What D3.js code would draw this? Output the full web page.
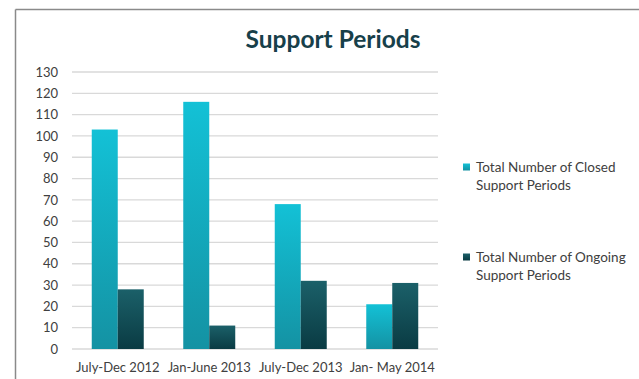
<!DOCTYPE html>
<html>
<head>
<meta charset="utf-8">
<script src="https://cdn.jsdelivr.net/npm/d3@7"></script>
<style>
  html, body { margin: 0; padding: 0; background: #fff; }
  svg { display: block; }
  text { font-family: Lato, "Open Sans", sans-serif; }
</style>
</head>
<body>
<script>
// Support periods per reporting window
const categories = ["July-Dec 2012", "Jan-June 2013", "July-Dec 2013", "Jan- May 2014"];
const closedPeriods = [103, 116, 68, 21];
const ongoingPeriods = [28, 11, 32, 31];
const seriesNames = ["Total Number of Closed Support Periods", "Total Number of Ongoing Support Periods"];
const yTicks = [0, 10, 20, 30, 40, 50, 60, 70, 80, 90, 100, 110, 120, 130];

const W = 639, H = 379;
const plot = { left: 72, right: 438, top: 72, bottom: 349 };

const svg = d3.select("body").append("svg").attr("width", W).attr("height", H);

// Vertical gradients for each series (top light, bottom dark per bar)
const defs = svg.append("defs");
const grads = [
  { id: "gClosed", top: "#13c1d6", bottom: "#1492a3" },
  { id: "gOngoing", top: "#1b6069", bottom: "#0a3b43" }
];
grads.forEach(g => {
  const lg = defs.append("linearGradient").attr("id", g.id)
    .attr("x1", 0).attr("y1", 0).attr("x2", 0).attr("y2", 1);
  lg.append("stop").attr("offset", "0%").attr("stop-color", g.top);
  lg.append("stop").attr("offset", "100%").attr("stop-color", g.bottom);
});

// Frame lines (top and left edge of the chart area)
svg.append("line").attr("x1", 15.5).attr("x2", W).attr("y1", 9.5).attr("y2", 9.5)
  .attr("stroke", "#8a8a8a").attr("stroke-width", 1.5);
svg.append("line").attr("x1", 15.5).attr("x2", 15.5).attr("y1", 9.5).attr("y2", H)
  .attr("stroke", "#8a8a8a").attr("stroke-width", 1.5);

const y = d3.scaleLinear().domain([0, 130]).range([plot.bottom, plot.top]);
const x0 = d3.scaleBand().domain(categories).range([plot.left, plot.right]).paddingInner(0).paddingOuter(0);
const x1 = d3.scaleBand().domain([0, 1]).range([0, x0.bandwidth()]).paddingInner(0).paddingOuter(0.76);

// Gridlines
svg.append("g")
  .selectAll("line").data(yTicks).join("line")
  .attr("x1", plot.left).attr("x2", plot.right)
  .attr("y1", d => y(d)).attr("y2", d => y(d))
  .attr("stroke", "#d9d9d9").attr("stroke-width", 1.3);

// Y axis labels
const yAxis = d3.axisLeft(y).tickValues(yTicks).tickSize(0).tickPadding(0);
const yg = svg.append("g").attr("transform", `translate(${plot.left - 14},0)`).call(yAxis);
yg.select(".domain").remove();
yg.selectAll("text").attr("font-size", 13).attr("fill", "#404040")
  .style("font-family", "Lato, 'Open Sans', sans-serif");

// Bars
const series = [closedPeriods, ongoingPeriods];
const groups = svg.append("g").selectAll("g").data(categories).join("g")
  .attr("transform", d => `translate(${x0(d)},0)`);
groups.selectAll("rect")
  .data((d, i) => series.map((s, k) => ({ k, v: s[i] })))
  .join("rect")
  .attr("x", d => x1(d.k))
  .attr("width", x1.bandwidth())
  .attr("y", d => y(d.v))
  .attr("height", d => y(0) - y(d.v))
  .attr("fill", d => `url(#${grads[d.k].id})`);

// X axis labels
const xAxis = d3.axisBottom(x0).tickSize(0).tickPadding(0);
const xg = svg.append("g").attr("transform", `translate(0,${plot.bottom + 14})`).call(xAxis);
xg.select(".domain").remove();
xg.selectAll("text").attr("font-size", 13).attr("fill", "#404040")
  .style("font-family", "Lato, 'Open Sans', sans-serif");

// Title
svg.append("text").attr("x", 333).attr("y", 48)
  .attr("text-anchor", "middle").attr("font-size", 24.5).attr("font-weight", "bold")
  .attr("fill", "#17404a").text("Support Periods");

// Legend
const legendY = [167, 257];
const legendLines = [["Total Number of Closed", "Support Periods"], ["Total Number of Ongoing", "Support Periods"]];
const lg = svg.append("g").selectAll("g").data(seriesNames).join("g")
  .attr("transform", (d, i) => `translate(463,${legendY[i]})`);
lg.append("rect").attr("x", 0).attr("y", -3.5).attr("width", 7).attr("height", 7)
  .attr("fill", (d, i) => `url(#${grads[i].id})`);
lg.each(function (d, i) {
  const t = d3.select(this).append("text").attr("x", 13).attr("y", 4.5)
    .attr("font-size", 13.5).attr("fill", "#404040");
  legendLines[i].forEach((ln, j) => {
    t.append("tspan").attr("x", 13).attr("dy", j === 0 ? 0 : 18).text(ln);
  });
});
</script>
</body>
</html>
